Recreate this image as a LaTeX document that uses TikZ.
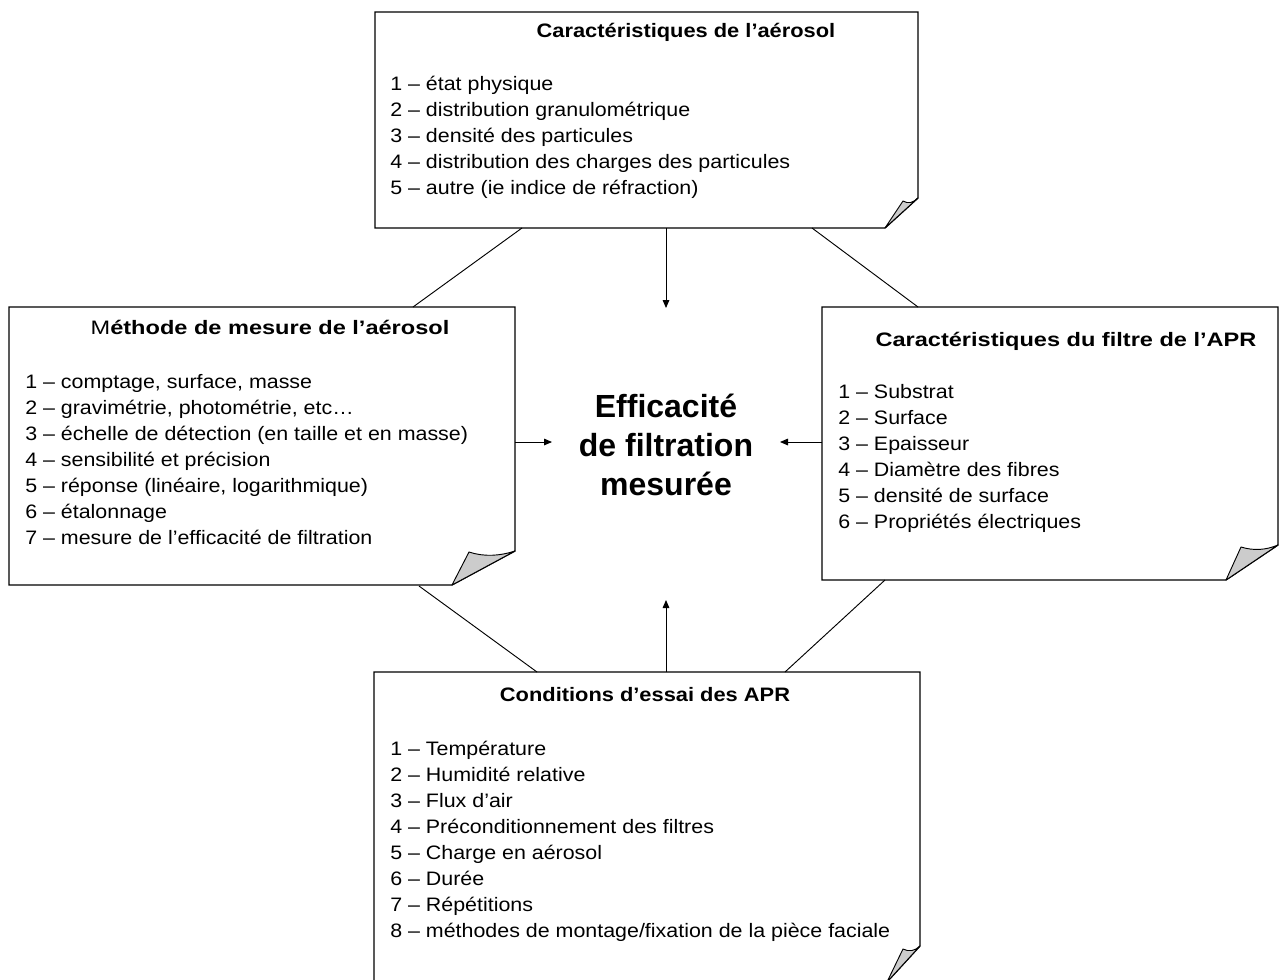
\documentclass[tikz,border=0pt]{standalone}
\usepackage{graphicx}
\usepackage{fontspec}
\setmainfont{Liberation Sans}
\newfontfamily\bodyfont[FakeStretch=1.1]{Liberation Sans}
\usetikzlibrary{arrows.meta}
\begin{document}
\begin{tikzpicture}[x=0.75pt,y=-0.75pt,
  boxline/.style={draw=black,line width=1.0pt,line join=miter},
  flap/.style={draw=black,line width=0.7pt,fill=gray!40,line join=round},
  conn/.style={draw=black,line width=0.7pt},
  arr/.style={conn,-{Triangle[length=6pt,width=5pt]}},
  item/.style={anchor=base west,inner sep=0pt,font=\bodyfont\fontsize{14.6}{17}\selectfont},
  ttl/.style={anchor=base,inner sep=0pt,font=\bodyfont\bfseries\fontsize{14.6}{17}\selectfont},
  big/.style={anchor=base,inner sep=0pt,font=\bfseries\fontsize{24}{29}\selectfont}]
\useasboundingbox (0,0) rectangle (1279,979);
\clip (0,0) rectangle (1279,979);
\fill[white] (0,0) rectangle (1279,979);

% --- papers ---
\draw[boxline] (375,12) -- (918,12) -- (918,198) -- (885,228) -- (375,228) -- cycle;
\draw[flap] (885,228) -- (903,201) .. controls (908,204) and (913,203) .. (918,198) -- cycle;

\draw[boxline] (9,307) -- (515,307) -- (515,551) -- (452,585) -- (9,585) -- cycle;
\draw[flap] (452,585) -- (469,552) .. controls (484,557) and (500,556) .. (515,551) -- cycle;

\draw[boxline] (822,307) -- (1278,307) -- (1278,545) -- (1226,580) -- (822,580) -- cycle;
\draw[flap] (1226,580) -- (1241,547) .. controls (1254,551) and (1266,550) .. (1278,545) -- cycle;

\draw[boxline] (374,672) -- (920,672) -- (920,946) -- (887,982) -- (374,982) -- cycle;
\draw[flap] (887,982) -- (903,949) .. controls (909,952) and (915,951) .. (920,946) -- cycle;

% --- titles ---
\node[ttl] (ttop) at (686,37) {\scalebox{1.02}[1]{Caractéristiques de l’aérosol}};
\node[ttl] (tleft) at (270,334) {\scalebox{1.1}[1]{\mdseries M\bfseries éthode de mesure de l’aérosol}};
\node[ttl] (tright) at (1066,346) {\scalebox{1.1}[1]{Caractéristiques du filtre de l’APR}};
\node[ttl] (tbot) at (645,701) {\scalebox{1.02}[1]{Conditions d’essai des APR}};

% --- items ---
\foreach \t [count=\i] in {{1 – état physique},{2 – distribution granulométrique},{3 – densité des particules},{4 – distribution des charges des particules},{5 – autre (ie indice de réfraction)}}
  \node[item] (top\i) at (390,{90+26*(\i-1)}) {\t};

\foreach \t [count=\i] in {{1 – comptage, surface, masse},{2 – gravimétrie, photométrie, etc…},{3 – échelle de détection (en taille et en masse)},{4 – sensibilité et précision},{5 – réponse (linéaire, logarithmique)},{6 – étalonnage},{7 – mesure de l’efficacité de filtration}}
  \node[item] (left\i) at (25,{388+26*(\i-1)}) {\t};

\foreach \t [count=\i] in {{1 – Substrat},{2 – Surface},{3 – Epaisseur},{4 – Diamètre des fibres},{5 – densité de surface},{6 – Propriétés électriques}}
  \node[item] (right\i) at (838,{398+26*(\i-1)}) {\t};

\foreach \t [count=\i] in {{1 – Température},{2 – Humidité relative},{3 – Flux d’air},{4 – Préconditionnement des filtres},{5 – Charge en aérosol},{6 – Durée},{7 – Répétitions},{8 – méthodes de montage/fixation de la pièce faciale}}
  \node[item] (bot\i) at (390,{755+26*(\i-1)}) {\t};

% --- centre ---
\node[big] (c1) at (666,417) {Efficacité};
\node[big] (c2) at (666,456) {de filtration};
\node[big] (c3) at (666,495) {mesurée};

% --- connector ends ---
\coordinate (topBL) at (522,228);
\coordinate (topBR) at (812,228);
\coordinate (topBM) at (666,228);
\coordinate (leftT) at (413,307);
\coordinate (rightT) at (918,307);
\coordinate (centT) at (666,308);
\coordinate (leftR) at (515,442);
\coordinate (centL) at (552,442);
\coordinate (rightL) at (822,442);
\coordinate (centR) at (780,442);
\coordinate (botT) at (666,672);
\coordinate (centB) at (666,600);
\coordinate (leftB) at (419,586);
\coordinate (botTL) at (537,672);
\coordinate (rightB) at (885,580);
\coordinate (botTR) at (785,672);

\draw[conn] (topBL) -- (leftT);
\draw[conn] (topBR) -- (rightT);
\draw[arr] (topBM) -- (centT);
\draw[arr] (leftR) -- (centL);
\draw[arr] (rightL) -- (centR);
\draw[arr] (botT) -- (centB);
\draw[conn] (leftB) -- (botTL);
\draw[conn] (rightB) -- (botTR);
\end{tikzpicture}
\end{document}
